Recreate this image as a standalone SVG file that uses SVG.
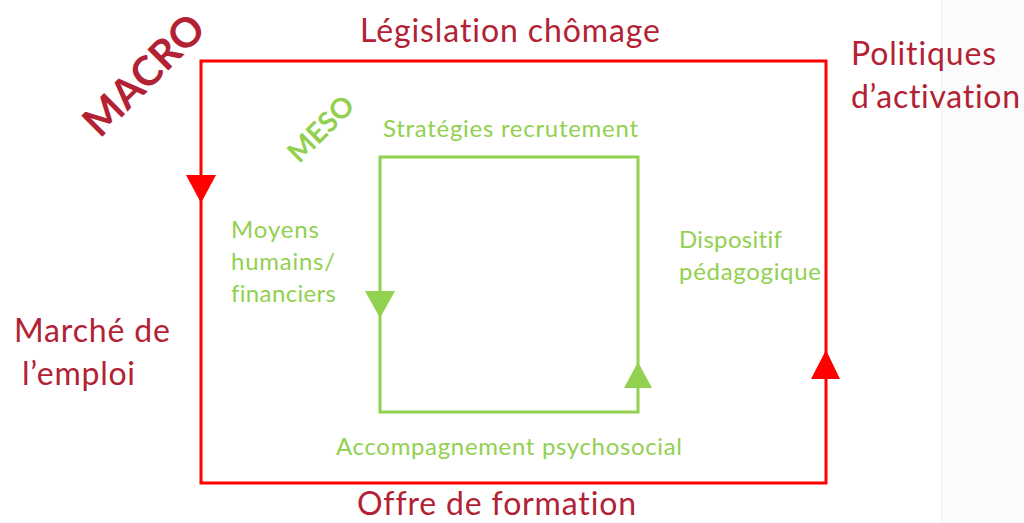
<svg xmlns="http://www.w3.org/2000/svg" width="1024" height="523" viewBox="0 0 1024 523">
<style>
text{font-variant-ligatures:none;font-feature-settings:"liga" 0}
.red{font-family:Lato,"Open Sans","Liberation Sans",sans-serif;font-size:32px;fill:#b22234}
.grn{font-family:Lato,"Open Sans","Liberation Sans",sans-serif;font-size:24px;fill:#92d050}
.macro{stroke:#ff0000;stroke-width:3;fill:none}
.meso{stroke:#92d050;stroke-width:3;fill:none}
</style>
<rect x="0" y="0" width="1024" height="523" fill="#ffffff"/>
<rect x="942" y="0" width="82" height="523" fill="#fbfbfb"/>
<line x1="941.5" y1="0" x2="941.5" y2="523" stroke="#efefef" stroke-width="1"/>
<g id="connectors">
<rect class="macro" x="201" y="61" width="625" height="422"/>
<rect class="meso" x="380" y="157" width="258" height="255"/>
<polygon points="186,175 216,175 201,203" fill="#ff0000"/>
<polygon points="811,379 840,379 826,350" fill="#ff0000"/>
<polygon points="365,291 395,291 380,318" fill="#92d050"/>
<polygon points="624,388 652,388 638,362" fill="#92d050"/>
</g>
<g id="macro-label"><text transform="translate(143,74) rotate(-45)" text-anchor="middle" dominant-baseline="central" font-family="Lato,'Open Sans','Liberation Sans',sans-serif" font-weight="bold" font-size="41" fill="#b22234">MACRO</text></g>
<g id="meso-label"><text transform="translate(320,128) rotate(-45)" text-anchor="middle" dominant-baseline="central" font-family="Lato,'Open Sans','Liberation Sans',sans-serif" font-weight="bold" font-size="28" fill="#92d050">MESO</text></g>
<g id="legislation"><text class="red" x="360" y="42" textLength="300">Législation chômage</text></g>
<g id="politiques"><text class="red" x="851" y="65" textLength="145">Politiques</text><text class="red" x="851" y="108" textLength="169">d’activation</text></g>
<g id="marche"><text class="red" x="14" y="342" textLength="156">Marché de</text><text class="red" x="22" y="385" textLength="113">l’emploi</text></g>
<g id="offre"><text class="red" x="357" y="515" textLength="279">Offre de formation</text></g>
<g id="strategies"><text class="grn" x="383" y="137" textLength="255">Stratégies recrutement</text></g>
<g id="moyens"><text class="grn" x="231" y="238" textLength="88">Moyens</text><text class="grn" x="231" y="270" textLength="104">humains/</text><text class="grn" x="231" y="302" textLength="105">financiers</text></g>
<g id="dispositif"><text class="grn" x="679" y="248" textLength="103">Dispositif</text><text class="grn" x="679" y="280" textLength="142">pédagogique</text></g>
<g id="accompagnement"><text class="grn" x="336" y="455" textLength="346">Accompagnement psychosocial</text></g>
</svg>
